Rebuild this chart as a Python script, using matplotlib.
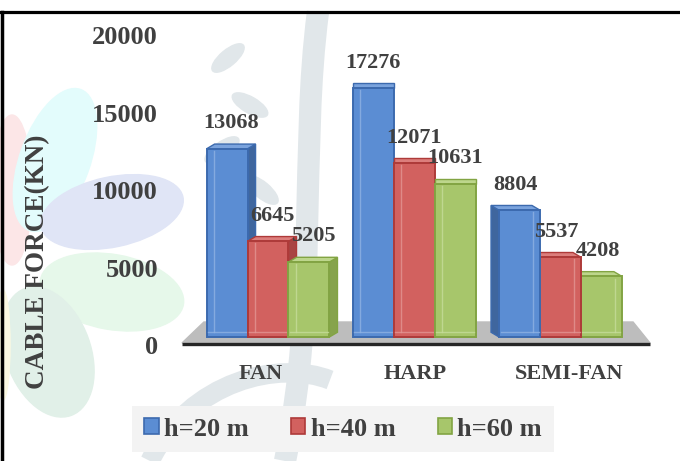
import matplotlib.pyplot as plt
from matplotlib.patches import Polygon, Ellipse, Patch, PathPatch
from matplotlib.path import Path
from matplotlib.lines import Line2D
from matplotlib.transforms import IdentityTransform

plt.rcParams['font.family'] = ['Liberation Serif', 'DejaVu Serif']
plt.rcParams['font.weight'] = 'bold'
plt.rcParams['text.color'] = '#404040'
plt.rcParams['xtick.color'] = '#404040'
plt.rcParams['ytick.color'] = '#404040'

categories = ["FAN", "HARP", "SEMI-FAN"]
series_labels = ["h=20 m", "h=40 m", "h=60 m"]
h20 = [13068, 17276, 8804]
h40 = [6645, 12071, 5537]
h60 = [5205, 10631, 4208]
yticks = [0, 5000, 10000, 15000, 20000]

values = [h20, h40, h60]
face = ['#5B8DD3', '#D2615F', '#A7C66B']
edge = ['#3C6AAE', '#AE3A39', '#82A443']
side = ['#3F669E', '#A94443', '#86A34C']
topc = ['#7AA3DD', '#DC7E7C', '#BDD68C']
inner = ['#8FB2E3', '#E39593', '#C6DC9A']

W, H = 680, 461
fig = plt.figure(figsize=(6.8, 4.61), dpi=100)


def box(left, top, width, height):
    return [left / W, 1 - (top + height) / H, width / W, height / H]


# faint background decoration
px = IdentityTransform()
petals = [
    ((12, 190), 40, 150, 0, '#FCE6E7'),
    ((55, 160), 70, 150, -20, '#E3FCFC'),
    ((112, 212), 145, 70, 12, '#E0E5F6'),
    ((112, 292), 145, 75, -10, '#E6F8EA'),
    ((48, 352), 85, 135, 20, '#E1F0E8'),
    ((3, 345), 14, 110, 0, '#FCF9E2'),
]
for (cx, cy), ew, eh, ang, col in petals:
    fig.add_artist(Ellipse((cx, H - cy), ew, eh, angle=ang, color=col,
                           transform=px, zorder=-5))
band = Path([(318, H - 12), (300, H - 150), (318, H - 300), (285, H - 461)],
            [Path.MOVETO, Path.CURVE4, Path.CURVE4, Path.CURVE4])
fig.add_artist(PathPatch(band, fill=False, lw=16, color='#E1E7EA',
                         transform=px, zorder=-4))
arc = Path([(150, H - 461), (190, H - 380), (280, H - 360), (330, H - 380)],
           [Path.MOVETO, Path.CURVE4, Path.CURVE4, Path.CURVE4])
fig.add_artist(PathPatch(arc, fill=False, lw=14, color='#E1E7EA',
                         transform=px, zorder=-4))
for cx, cy, ang in [(228, 58, 40), (250, 105, -30), (222, 150, 35),
                    (262, 190, -40), (235, 240, 30)]:
    fig.add_artist(Ellipse((cx, H - cy), 40, 16, angle=ang, color='#E1E7EA',
                           transform=px, zorder=-4))

# page frame
fig.add_artist(Line2D([0, 1], [1 - 12.5 / H] * 2, color='black', lw=2.3))
fig.add_artist(Line2D([1.5 / W] * 2, [0, 1 - 12.5 / H], color='black', lw=2.5))

# front plane: tick labels
axt = fig.add_axes(box(165.5, 35, 499, 310), zorder=0)
axt.set_facecolor('none')
axt.set_xlim(-0.62, 2.62)
axt.set_ylim(0, 20000)
axt.set_yticks(yticks)
axt.set_xticks(range(len(categories)), categories)
axt.tick_params(axis='y', length=0, labelsize=19, pad=5.4)
axt.tick_params(axis='x', length=0, labelsize=16, pad=14)
for s in axt.spines.values():
    s.set_visible(False)

# bar plane
ax = fig.add_axes(box(177.3, 34.6, 473.9, 316.8), zorder=1)
ax.set_facecolor('none')
ax.set_xlim(-0.62, 2.62)
ax.set_ylim(-1000, 21000)
ax.axis('off')

# floor
ax.add_patch(Polygon([(-0.438, 1042), (2.496, 1042), (2.612, -417), (-0.588, -417)],
                     closed=True, color='#BDBDBD', zorder=1))
ax.plot([-0.588, 2.612], [-486, -486], color='#262626', lw=2.4,
        solid_capstyle='butt', zorder=1.5)

w = 0.28
dy = 330
depth = [0.055, 0.0, -0.055]
for g in range(len(categories)):
    dx = depth[g]
    order = [0, 1, 2] if dx >= 0 else [2, 1, 0]
    for rank, i in enumerate(order):
        v = values[i][g]
        xc = g + (i - 1) * w
        x0, x1 = xc - w / 2, xc + w / 2
        z = 3 + rank
        if dx > 0:
            ax.add_patch(Polygon([(x1, 0), (x1 + dx, dy), (x1 + dx, v + dy), (x1, v)],
                                 facecolor=side[i], edgecolor=edge[i], lw=1, zorder=z))
        elif dx < 0:
            ax.add_patch(Polygon([(x0, 0), (x0 + dx, dy), (x0 + dx, v + dy), (x0, v)],
                                 facecolor=side[i], edgecolor=edge[i], lw=1, zorder=z))
        ax.add_patch(Polygon([(x0, v), (x0 + dx, v + dy), (x1 + dx, v + dy), (x1, v)],
                             facecolor=topc[i], edgecolor=edge[i], lw=1, zorder=z + 0.1))
        ax.bar(xc, v, w, color=face[i], edgecolor=edge[i], lw=1.4, zorder=z + 0.2)
        xi = x0 + 0.05 if dx >= 0 else x1 - 0.05
        ax.plot([xi, xi], [dy, v - 150], color=inner[i], lw=1, alpha=0.8, zorder=z + 0.3)
        ax.plot([x0 + 0.01, x1 - 0.01], [dy, dy], color=inner[i], lw=1, alpha=0.8, zorder=z + 0.3)
        ax.annotate(f"{v}", (xc + dx / 2, v + dy), xytext=(0, 15),
                    textcoords='offset points', ha='center', va='center',
                    fontsize=16, zorder=20)

fig.text(38 / W, 1 - 262 / H, "CABLE FORCE(KN)", rotation=90,
         ha='center', va='center', fontsize=19.5)

handles = [Patch(facecolor=face[i], edgecolor=edge[i], lw=1.2) for i in range(3)]
leg = fig.legend(handles, series_labels, loc='center',
                 bbox_to_anchor=(343 / W, 1 - 429 / H), ncol=3, fontsize=19,
                 frameon=True, fancybox=False, facecolor='#F3F3F3',
                 edgecolor='none', framealpha=1, handlelength=0.55,
                 handleheight=0.55, handletextpad=0.2, columnspacing=1.6,
                 borderpad=0.45, borderaxespad=0)

fig.savefig("out.png", dpi=100)
